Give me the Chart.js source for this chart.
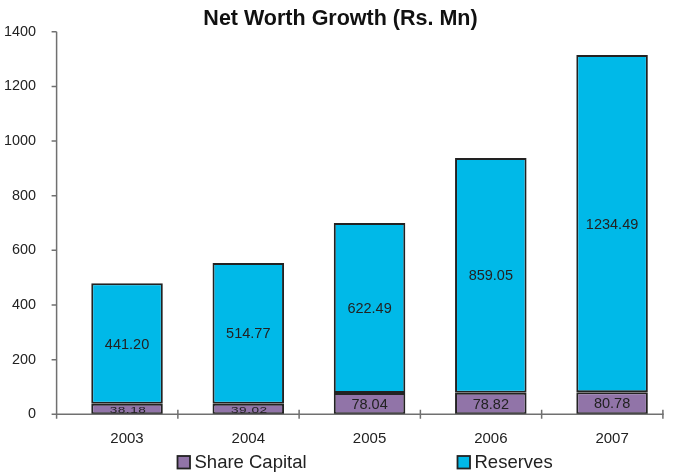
<!DOCTYPE html>
<html>
<head>
<meta charset="utf-8">
<script src="https://cdn.jsdelivr.net/npm/chart.js@4/dist/chart.umd.min.js"></script>
<style>
html,body{margin:0;padding:0;background:#fff;}
#wrap{width:675px;height:476px;}
</style>
</head>
<body>
<div id="wrap"><canvas id="c" width="675" height="476"></canvas></div>
<script>
const years = ["2003", "2004", "2005", "2006", "2007"];
const shareCapital = [38.18, 39.02, 78.04, 78.82, 80.78];
const reserves = [441.20, 514.77, 622.49, 859.05, 1234.49];
const seriesNames = ["Share Capital", "Reserves"];
const yTicks = [0, 200, 400, 600, 800, 1000, 1200, 1400];
const chartTitle = "Net Worth Growth (Rs. Mn)";

const FONT = "'Liberation Sans', Arial, sans-serif";
const TXT = "#222222";
const AXIS = "#707070";

// axes drawn in the Excel style: the axis frame sits slightly left of the category bands
const AXIS_SHIFT = 9.8;

const axesPlugin = {
  id: "axesPlugin",
  afterDatasetsDraw(chart) {
    const ctx = chart.ctx;
    const xs = chart.scales.x, ys = chart.scales.y;
    const n = chart.data.labels.length;
    const cat = (xs.getPixelForValue(1) - xs.getPixelForValue(0));
    const bounds = [];
    for (let i = 0; i <= n; i++) bounds.push(xs.getPixelForValue(0) - cat / 2 + i * cat - AXIS_SHIFT);
    const x0 = bounds[0];
    const y0 = ys.getPixelForValue(0);
    const yTop = ys.getPixelForValue(yTicks[yTicks.length - 1]);
    ctx.save();
    ctx.strokeStyle = AXIS;
    ctx.lineWidth = 1.5;
    ctx.beginPath();
    ctx.moveTo(x0, yTop); ctx.lineTo(x0, y0);
    ctx.moveTo(x0, y0); ctx.lineTo(bounds[n] + 1, y0);
    yTicks.forEach(v => {
      const py = ys.getPixelForValue(v);
      ctx.moveTo(x0 - 5, py); ctx.lineTo(x0, py);
    });
    bounds.forEach(bx => {
      ctx.moveTo(bx, y0 - 4.5); ctx.lineTo(bx, y0 + 4.5);
    });
    ctx.stroke();
    ctx.restore();
  }
};

const valueLabels = {
  id: "valueLabels",
  afterDatasetsDraw(chart) {
    const ctx = chart.ctx;
    chart.data.datasets.forEach((ds, di) => {
      const meta = chart.getDatasetMeta(di);
      meta.data.forEach((bar, i) => {
        const h = Math.abs(bar.base - bar.y);
        const cy = (bar.y + bar.base) / 2 + 1;
        const txt = ds.data[i].toFixed(2);
        ctx.save();
        ctx.textAlign = "center";
        ctx.textBaseline = "middle";
        ctx.fillStyle = TXT;
        if (h < 16) {
          ctx.translate(bar.x + 1, cy);
          ctx.scale(1.05, 0.72);
          ctx.font = "13px " + FONT;
          ctx.letterSpacing = "0.5px";
          ctx.fillText(txt, 0, 0);
        } else {
          ctx.font = "14.5px " + FONT;
          ctx.fillText(txt, bar.x, cy);
        }
        ctx.letterSpacing = "0px";
        ctx.restore();
      });
    });
  }
};

const titleAndLegend = {
  id: "titleAndLegend",
  afterDraw(chart) {
    const ctx = chart.ctx;
    ctx.save();
    ctx.letterSpacing = "0px";
    // title
    ctx.font = "bold 21.5px " + FONT;
    ctx.fillStyle = "#111";
    ctx.textAlign = "center";
    ctx.textBaseline = "middle";
    ctx.fillText(chartTitle, 340.5, 19);
    // legend
    const items = [
      {x: 177.5, ds: chart.data.datasets[0]},
      {x: 457.5, ds: chart.data.datasets[1]}
    ];
    ctx.font = "18.5px " + FONT;
    ctx.textAlign = "left";
    items.forEach(it => {
      ctx.fillStyle = it.ds.backgroundColor;
      ctx.fillRect(it.x, 456, 12.5, 12.5);
      ctx.strokeStyle = "#222";
      ctx.lineWidth = 1.8;
      ctx.strokeRect(it.x, 456, 12.5, 12.5);
      ctx.fillStyle = TXT;
      ctx.fillText(it.ds.label, it.x + 17, 462.5);
    });
    ctx.restore();
  }
};

new Chart(document.getElementById("c"), {
  type: "bar",
  data: {
    labels: years,
    datasets: [
      {label: seriesNames[0], data: shareCapital, backgroundColor: "#9174A8", borderColor: "#222222", borderWidth: 2, borderSkipped: false},
      {label: seriesNames[1], data: reserves, backgroundColor: "#00B9E8", borderColor: "#222222", borderWidth: 2, borderSkipped: false}
    ]
  },
  options: {
    responsive: false,
    animation: false,
    devicePixelRatio: 1,
    layout: {padding: {left: 0, right: 2.3, top: 31.8, bottom: 30}},
    datasets: {bar: {categoryPercentage: 1.0, barPercentage: 0.59}},
    plugins: {
      legend: {display: false},
      tooltip: {enabled: false},
      title: {display: false}
    },
    scales: {
      x: {
        stacked: true,
        offset: true,
        afterFit(s) { s.height = 31.7; },
        grid: {display: false},
        border: {display: false},
        ticks: {color: TXT, font: {family: FONT, size: 15}, padding: 7.5, maxRotation: 0}
      },
      y: {
        stacked: true,
        min: 0,
        max: 1400,
        afterFit(s) { s.width = 66.4; },
        afterBuildTicks(s) { s.ticks = yTicks.map(v => ({value: v})); },
        grid: {display: false},
        border: {display: false},
        ticks: {color: TXT, font: {family: FONT, size: 14.4}, padding: 22.4, callback: v => String(v)}
      }
    }
  },
  plugins: [valueLabels, axesPlugin, titleAndLegend]
});
</script>
</body>
</html>
